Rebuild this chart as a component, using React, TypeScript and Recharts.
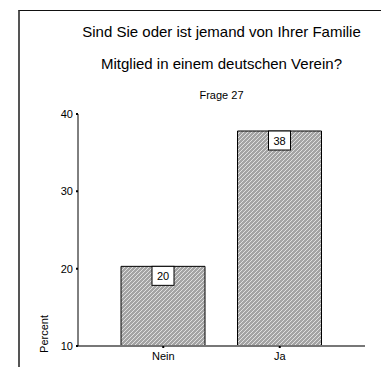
import { BarChart, Bar, XAxis, YAxis, LabelList } from "recharts"

const categories = ["Nein", "Ja"]
const percents = [20.3, 37.8]
const yTicks = [10, 20, 30, 40]

const titleLines = [
  "Sind Sie oder ist jemand von Ihrer Familie",
  "Mitglied in einem deutschen Verein?",
]
const subtitle = "Frage 27"

const FONT = "'Liberation Sans', Arial, Helvetica, sans-serif"

// small boxed value label sitting just inside the top of each bar
function BoxLabel(props: any) {
  const { x, y, width, value } = props
  const w = 22
  const h = 19
  const cx = x + width / 2
  return (
    <g>
      <rect x={cx - w / 2} y={y} width={w} height={h} fill="#fff" stroke="#000" strokeWidth={1} />
      <text x={cx} y={y + h / 2 + 4} textAnchor="middle" fontSize={11} fontFamily={FONT} fill="#000">
        {Math.round(value)}
      </text>
    </g>
  )
}

export default function App() {
  const data = categories.map((c, i) => ({ name: c, value: percents[i] }))

  return (
    <div style={{ position: "absolute", left: 0, top: 0, width: 381, height: 367, overflow: "hidden", background: "#fff", fontFamily: FONT }}>
      {/* outer frame */}
      <div style={{ position: "absolute", left: 18, top: 10, width: 420, height: 420, borderLeft: "2px solid #555", borderTop: "1px solid #111" }} />

      {titleLines.map((t, i) => (
        <div
          key={i}
          style={{ position: "absolute", left: 78, width: 287, top: 23 + i * 32, textAlign: "center", fontSize: 15, lineHeight: "18px", color: "#000" }}
        >
          {t}
        </div>
      ))}
      <div style={{ position: "absolute", left: 78, width: 287, top: 88, textAlign: "center", fontSize: 11, lineHeight: "14px", color: "#000" }}>
        {subtitle}
      </div>
      <div
        style={{ position: "absolute", left: 44, top: 334, fontSize: 11, lineHeight: "12px", color: "#000", transform: "translate(-50%, -50%) rotate(-90deg)", whiteSpace: "nowrap" }}
      >
        Percent
      </div>

      <BarChart
        width={381}
        height={367}
        data={data}
        margin={{ top: 114, right: 16, bottom: 0, left: 0 }}
        style={{ position: "absolute", left: 0, top: 0 }}
      >
        <defs>
          <pattern id="hatch" patternUnits="userSpaceOnUse" width={4} height={4}>
            <rect width={4} height={4} fill="#a4a4a4" />
            <path d="M-1,1 l2,-2 M0,4 l4,-4 M3,5 l2,-2" stroke="#e0e0e0" strokeWidth={1} />
          </pattern>
        </defs>
        <XAxis
          dataKey="name"
          height={21}
          padding={{ left: 27, right: 27 }}
          axisLine={{ stroke: "#777", strokeWidth: 2 }}
          tickLine={{ stroke: "#000", strokeWidth: 2 }}
          tickSize={2}
          tickMargin={4}
          tick={{ fontSize: 11, fill: "#000", fontFamily: FONT }}
        />
        <XAxis xAxisId="top" orientation="top" height={0} tick={false} tickLine={false} axisLine={{ stroke: "#000" }} />
        <YAxis
          width={78}
          domain={[10, 40]}
          ticks={yTicks}
          allowDataOverflow
          axisLine={{ stroke: "#000" }}
          tickLine={{ stroke: "#000", strokeWidth: 2 }}
          tickSize={2}
          tickMargin={3}
          tick={{ fontSize: 11, fill: "#000", fontFamily: FONT }}
        />
        <YAxis yAxisId="right" orientation="right" width={0} domain={[10, 40]} tick={false} tickLine={false} axisLine={{ stroke: "#777", strokeWidth: 2 }} />
        <Bar dataKey="value" barSize={84} fill="url(#hatch)" stroke="#000" strokeWidth={1} isAnimationActive={false}>
          <LabelList dataKey="value" content={BoxLabel} />
        </Bar>
      </BarChart>
    </div>
  )
}
